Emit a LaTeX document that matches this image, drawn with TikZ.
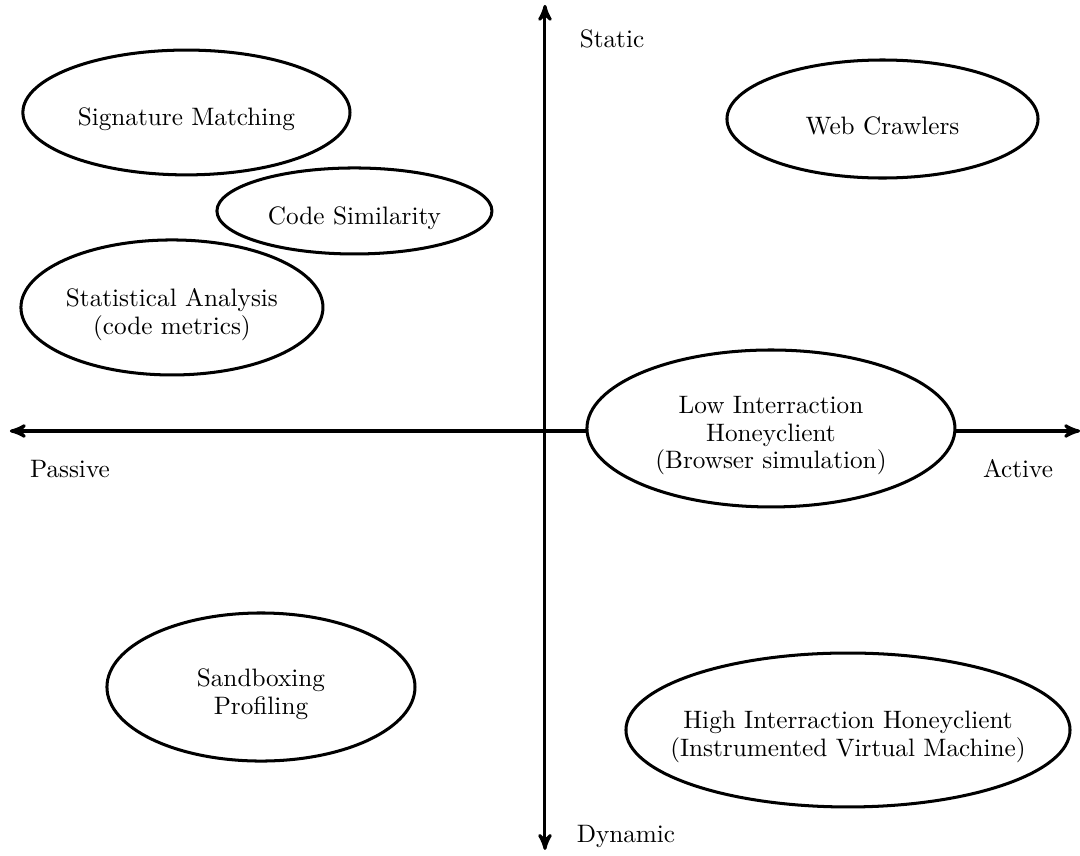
\documentclass[tikz,border=0pt]{standalone}
\usepackage{tikz}
\usetikzlibrary{shapes,arrows,positioning}

\begin{document}
\begin{tikzpicture}[
    >=stealth',
    axis/.style={<->, very thick},
    method/.style={ellipse, draw, very thick, fill=white, inner sep=0pt},
    txt/.style={align=center, yshift=-0.1cm, font=\fontsize{10}{11}\selectfont},
    lbl/.style={font=\normalsize},
]
    \useasboundingbox (-7.597, -5.911) rectangle (7.458, 6.008);

    % Axes
    \coordinate (west) at (-7.46, 0);
    \coordinate (east) at (7.46, 0);
    \coordinate (north) at (0, 5.94);
    \coordinate (south) at (0, -5.84);
    \draw[axis] (west) -- (east);
    \draw[axis] (south) -- (north);

    \node[lbl] (static) at (0.934, 5.464) {Static};
    \node[lbl] (dynamic) at (1.129, -5.646) {Dynamic};
    \node[lbl] (passive) at (-6.622, -0.530) {Passive};
    \node[lbl] (active) at (6.594, -0.530) {Active};

    % Passive side
    \node[method, minimum width=4.56cm, minimum height=1.74cm, label={[txt]center:Signature Matching}] (sig) at (-4.998, 4.44) {};
    \node[method, minimum width=3.834cm, minimum height=1.199cm, label={[txt]center:Code Similarity}] (sim) at (-2.656, 3.067) {};
    \node[method, minimum width=4.21cm, minimum height=1.882cm, label={[txt]center:{Statistical Analysis\\(code metrics)}}] (stat) at (-5.20, 1.722) {};
    \node[method, minimum width=4.294cm, minimum height=2.064cm, label={[txt]center:{Sandboxing\\Profiling}}] (sand) at (-3.959, -3.569) {};

    % Active side
    \node[method, minimum width=4.336cm, minimum height=1.645cm, label={[txt]center:Web Crawlers}] (crawl) at (4.705, 4.349) {};
    \node[method, minimum width=5.13cm, minimum height=2.188cm, label={[txt]center:{Low Interraction\\Honeyclient\\(Browser simulation)}}] (low) at (3.150, 0.035) {};
    \node[method, minimum width=6.19cm, minimum height=2.146cm, label={[txt]center:{High Interraction Honeyclient\\(Instrumented Virtual Machine)}}] (high) at (4.224, -4.168) {};

\end{tikzpicture}
\end{document}
